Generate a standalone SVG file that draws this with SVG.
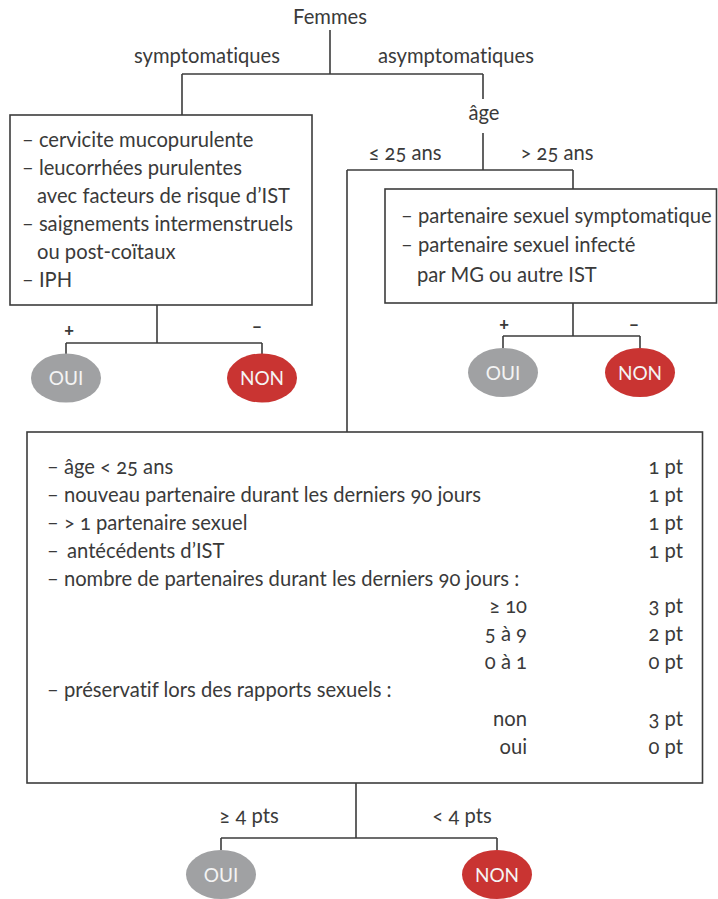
<svg xmlns="http://www.w3.org/2000/svg" width="718" height="899" viewBox="0 0 718 899">
<style>
text{font-family:Lato,"Open Sans","Liberation Sans",sans-serif;font-size:20.2px;fill:#3a3a3a;font-variant-numeric:oldstyle-nums;font-variant-ligatures:none}
.c{text-anchor:middle}
.e{text-anchor:end}
.box{fill:#fff;stroke:#3c3c3c;stroke-width:1.6}
.ln{fill:none;stroke:#3c3c3c;stroke-width:1.6}
.oui{fill:#a0a1a3}
.non{fill:#c93432}
.ov{fill:#f4f4f4;font-size:19px;text-anchor:middle}
.pm{font-size:18px;font-weight:bold;fill:#3a3a3a}
</style>
<rect width="718" height="899" fill="#fff"/>
<g id="connectors">
<path class="ln" d="M330 30V74M182 74H483M182 74V115M483 74V99"/>
<path class="ln" d="M483 133V170M347 170H573M573 170V189M347 170V432"/>
<path class="ln" d="M157 305V343M66 343H262M66 343V354M262 343V354"/>
<path class="ln" d="M573 303V336M503 336H640M503 336V348M640 336V348"/>
<path class="ln" d="M356 783V838M221 838H497M221 838V850M497 838V850"/>
</g>
<g id="labels">
<text class="c" x="330" y="24">Femmes</text>
<text class="c" x="207" y="63">symptomatiques</text>
<text class="c" x="456" y="63">asymptomatiques</text>
<text class="c" x="484" y="120">âge</text>
<text class="c" x="405" y="160">≤ 25 ans</text>
<text class="c" x="557" y="160">&gt; 25 ans</text>
<text class="c pm" x="69" y="336">+</text>
<text class="c pm" x="257" y="333">–</text>
<text class="c pm" x="504" y="330">+</text>
<text class="c pm" x="634" y="331">–</text>
<text class="c" x="249" y="823">≥ 4 pts</text>
<text class="c" x="462" y="823">&lt; 4 pts</text>
</g>
<g id="box-symptomes">
<rect class="box" x="10" y="115" width="302" height="190"/>
<text x="22" y="147">– cervicite mucopurulente</text>
<text x="22" y="175">– leucorrhées purulentes</text>
<text x="37" y="203">avec facteurs de risque d’IST</text>
<text x="22" y="231">– saignements intermenstruels</text>
<text x="37" y="259">ou post-coïtaux</text>
<text x="22" y="287">– IPH</text>
</g>
<g id="box-partenaire">
<rect class="box" x="385" y="189" width="331.5" height="114"/>
<text x="401" y="223">– partenaire sexuel symptomatique</text>
<text x="401" y="252">– partenaire sexuel infecté</text>
<text x="417" y="282">par MG ou autre IST</text>
</g>
<g id="box-score">
<rect class="box" x="27" y="432" width="675.5" height="351"/>
<text x="47" y="474">– âge &lt; 25 ans</text>
<text class="e" x="683" y="474">1 pt</text>
<text x="47" y="502">– nouveau partenaire durant les derniers 90 jours</text>
<text class="e" x="683" y="502">1 pt</text>
<text x="47" y="530">– &gt; 1 partenaire sexuel</text>
<text class="e" x="683" y="530">1 pt</text>
<text x="47" y="558">–</text>
<text x="67" y="558">antécédents d’IST</text>
<text class="e" x="683" y="558">1 pt</text>
<text x="47" y="586">– nombre de partenaires durant les derniers 90 jours :</text>
<text class="e" x="527" y="613">≥ 10</text>
<text class="e" x="683" y="613">3 pt</text>
<text class="e" x="527" y="641">5 à 9</text>
<text class="e" x="683" y="641">2 pt</text>
<text class="e" x="527" y="669">0 à 1</text>
<text class="e" x="683" y="669">0 pt</text>
<text x="47" y="697">– préservatif lors des rapports sexuels :</text>
<text class="e" x="527" y="726">non</text>
<text class="e" x="683" y="726">3 pt</text>
<text class="e" x="527" y="754">oui</text>
<text class="e" x="683" y="754">0 pt</text>
</g>
<g id="oui-1"><ellipse class="oui" cx="66" cy="378" rx="35" ry="24.5"/><text class="ov" x="66" y="385">OUI</text></g>
<g id="non-1"><ellipse class="non" cx="262" cy="378" rx="35" ry="24.5"/><text class="ov" x="262" y="385">NON</text></g>
<g id="oui-2"><ellipse class="oui" cx="503" cy="372.5" rx="35" ry="24.5"/><text class="ov" x="503" y="379.5">OUI</text></g>
<g id="non-2"><ellipse class="non" cx="640" cy="372.5" rx="35" ry="24.5"/><text class="ov" x="640" y="379.5">NON</text></g>
<g id="oui-3"><ellipse class="oui" cx="221" cy="874.5" rx="35" ry="24.5"/><text class="ov" x="221" y="881.5">OUI</text></g>
<g id="non-3"><ellipse class="non" cx="497" cy="874.5" rx="35" ry="24.5"/><text class="ov" x="497" y="881.5">NON</text></g>
</svg>
